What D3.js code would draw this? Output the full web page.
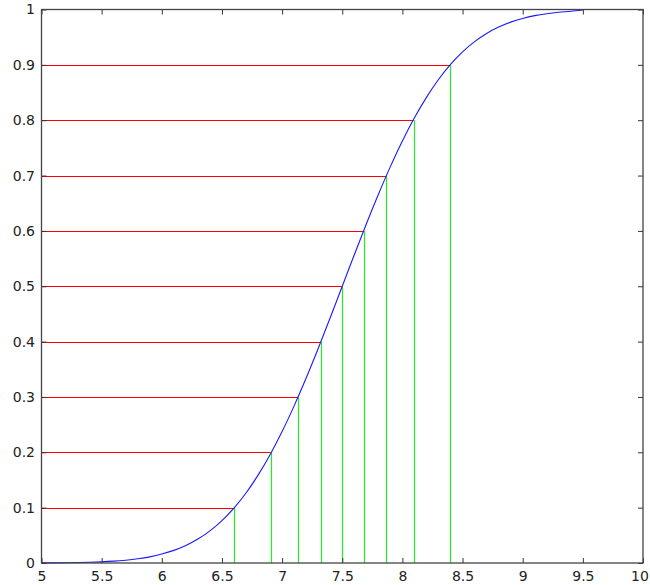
<!DOCTYPE html>
<html>
<head>
<meta charset="utf-8">
<script src="https://cdn.jsdelivr.net/npm/d3@7"></script>
<style>
  body { margin: 0; background: #fff; }
  text { font-family: "DejaVu Sans", Arial, sans-serif; font-size: 14px; fill: #222; }
</style>
</head>
<body>
<script>
// curve (x, cumulative value)
const curveX = [5.0, 5.1, 5.2, 5.3, 5.4, 5.5, 5.6, 5.7, 5.8, 5.9,
                6.0, 6.1, 6.2, 6.3, 6.4, 6.5, 6.6, 6.7, 6.8, 6.9,
                7.0, 7.1, 7.2, 7.3, 7.4, 7.5, 7.6, 7.7, 7.8, 7.9,
                8.0, 8.1, 8.2, 8.3, 8.4, 8.5, 8.6, 8.7, 8.8, 8.9,
                9.0, 9.1, 9.2, 9.3, 9.4, 9.5];
const curveY = [0.0002, 0.0003, 0.0005, 0.0008, 0.0013, 0.0021, 0.0033, 0.0051, 0.0076, 0.0111,
                0.0161, 0.0228, 0.0317, 0.0432, 0.0580, 0.0766, 0.0993, 0.1265, 0.1587, 0.1957,
                0.2375, 0.2839, 0.3341, 0.3875, 0.4432, 0.5000, 0.5568, 0.6125, 0.6659, 0.7161,
                0.7625, 0.8043, 0.8413, 0.8735, 0.9007, 0.9234, 0.9420, 0.9568, 0.9683, 0.9772,
                0.9839, 0.9889, 0.9924, 0.9949, 0.9967, 0.9990];

// levels and where they hit the curve
const levels = [0.1, 0.2, 0.3, 0.4, 0.5, 0.6, 0.7, 0.8, 0.9];
const quantiles = [6.603, 6.905, 7.135, 7.321, 7.5, 7.679, 7.865, 8.093, 8.397];

const xTicks = [5, 5.5, 6, 6.5, 7, 7.5, 8, 8.5, 9, 9.5, 10];
const yTicks = [0, 0.1, 0.2, 0.3, 0.4, 0.5, 0.6, 0.7, 0.8, 0.9, 1];

const width = 650, height = 585;
const mLeft = 41.5, mRight = 643, mTop = 9.5, mBottom = 563;

const x = d3.scaleLinear().domain([5, 10]).range([mLeft, mRight]);
const y = d3.scaleLinear().domain([0, 1]).range([mBottom, mTop]);

const svg = d3.select("body").append("svg")
    .attr("width", width)
    .attr("height", height);

// red horizontal lines from the y axis to the curve
svg.append("g")
    .selectAll("line")
    .data(levels)
    .join("line")
    .attr("x1", x(5))
    .attr("x2", (d, i) => x(quantiles[i]))
    .attr("y1", d => Math.round(y(d)) + 0.5)
    .attr("y2", d => Math.round(y(d)) + 0.5)
    .attr("stroke", "#ff0000")
    .attr("stroke-width", 1);

// green vertical lines from the x axis up to the curve
svg.append("g")
    .selectAll("line")
    .data(quantiles)
    .join("line")
    .attr("x1", d => Math.round(x(d)) + 0.5)
    .attr("x2", d => Math.round(x(d)) + 0.5)
    .attr("y1", y(0))
    .attr("y2", (d, i) => y(levels[i]))
    .attr("stroke", "#22ee22")
    .attr("stroke-width", 1.2);

// the curve
const line = d3.line()
    .x((d, i) => x(curveX[i]))
    .y(d => y(d))
    .curve(d3.curveMonotoneX);

svg.append("path")
    .datum(curveY)
    .attr("fill", "none")
    .attr("stroke", "#1a1aff")
    .attr("stroke-width", 1.1)
    .attr("d", line);

// axes, MATLAB style: box with inward ticks
const xAxisB = d3.axisBottom(x).tickValues(xTicks).tickSize(-5).tickPadding(8.5).tickFormat(d3.format("~g"));
const xAxisT = d3.axisTop(x).tickValues(xTicks).tickSize(-5).tickFormat("");
const yAxisL = d3.axisLeft(y).tickValues(yTicks).tickSize(-5).tickPadding(6.5).tickFormat(d3.format("~g"));
const yAxisR = d3.axisRight(y).tickValues(yTicks).tickSize(-5).tickFormat("");

function styleAxis(g) {
  g.select(".domain").remove();
  g.selectAll(".tick line").attr("stroke", "#333");
  g.selectAll(".tick text").attr("fill", "#222").style("font-size", "14px");
}

const gx = svg.append("g").attr("transform", `translate(0,${mBottom})`).call(xAxisB).call(styleAxis);
// keep the "10" inside the window
gx.selectAll(".tick text").filter(d => d === 10).attr("dx", -3.5);
svg.append("g").attr("transform", `translate(0,${mTop})`).call(xAxisT).call(styleAxis);
svg.append("g").attr("transform", `translate(${mLeft},0)`).call(yAxisL).call(styleAxis);
svg.append("g").attr("transform", `translate(${mRight},0)`).call(yAxisR).call(styleAxis);

svg.append("rect")
    .attr("x", mLeft)
    .attr("y", mTop)
    .attr("width", mRight - mLeft)
    .attr("height", mBottom - mTop)
    .attr("fill", "none")
    .attr("stroke", "#444")
    .attr("stroke-width", 1.3);
</script>
</body>
</html>
